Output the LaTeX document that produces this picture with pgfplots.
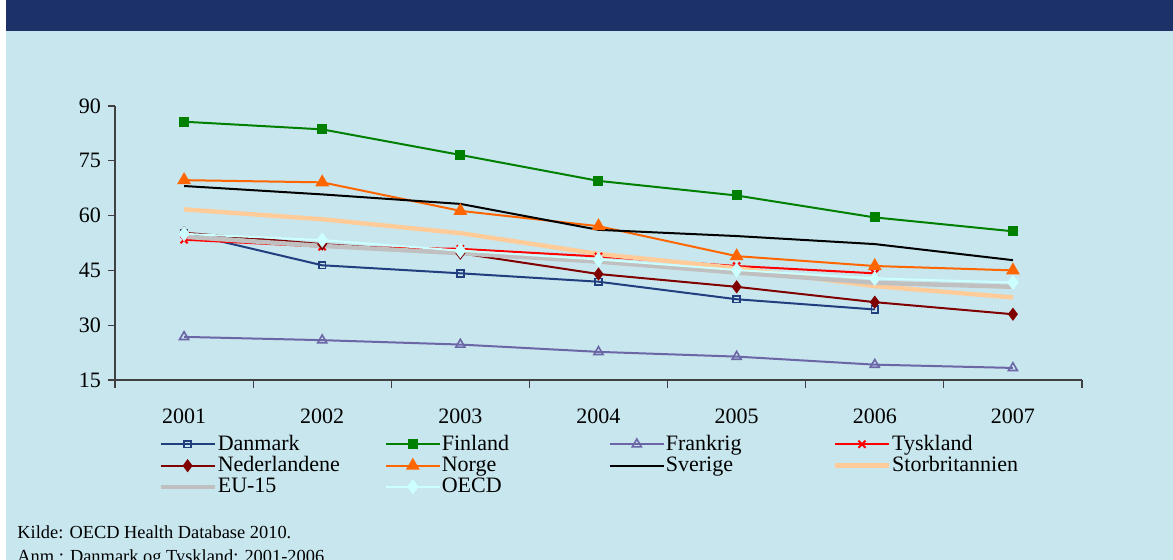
\documentclass[border=0pt]{standalone}
\usepackage{fontspec}
\setmainfont{Liberation Serif}
\usepackage{pgfplots}
\pgfplotsset{compat=1.18}

\definecolor{bg}{HTML}{C8E6EE}
\definecolor{banner}{HTML}{1C3168}
\definecolor{cDan}{HTML}{213E7E}
\definecolor{cFin}{HTML}{008000}
\definecolor{cFra}{HTML}{6B66A6}
\definecolor{cTys}{HTML}{FF0000}
\definecolor{cNed}{HTML}{800000}
\definecolor{cNor}{HTML}{FF6600}
\definecolor{cSve}{HTML}{000000}
\definecolor{cGbr}{HTML}{FFCC99}
\definecolor{cEu}{HTML}{C0C0C0}
\definecolor{cOecd}{HTML}{CCFFFF}

\begin{document}
\begin{tikzpicture}
\path[use as bounding box] (0,0) rectangle (586.5pt,280pt);
\clip (0,0) rectangle (586.5pt,280pt);
\fill[white] (0,0) rectangle (586.5pt,280pt);
\fill[bg] (3pt,0) rectangle (586.5pt,264.5pt);
\fill[banner] (3pt,264.5pt) rectangle (586.5pt,280pt);

\begin{axis}[
    at={(57.5pt,90pt)}, anchor=south west,
    scale only axis, width=483.5pt, height=137pt,
    xmin=-0.5, xmax=6.5, ymin=15, ymax=90,
    axis x line*=bottom, axis y line*=left,
    axis line style={black!75, line width=0.6pt, -},
    xtick={0,...,6},
    xticklabels={2001,2002,2003,2004,2005,2006,2007},
    minor xtick={-0.5,0.5,...,6.5},
    ytick={15,30,45,60,75,90},
    tick align=outside,
    major tick length=3.5pt, minor tick length=4pt,
    major x tick style={draw=none},
    tick style={black!75, line width=0.6pt},
    tick label style={font=\fontsize{11}{13}\selectfont},
    xticklabel style={yshift=-7.5pt},
    /pgf/number format/assume math mode=true,
    legend style={at={(0.0445,-0.196)}, anchor=north west, draw=none, fill=none,
        legend columns=4, font=\fontsize{11}{10.5}\selectfont, inner sep=0pt,
        nodes={inner sep=0.5pt}, row sep=0.6pt,
        /tikz/every even column/.append style={text width=83pt}},
    legend cell align=left,
    legend image code/.code={\draw[mark repeat=2,mark phase=2,#1]
        plot coordinates {(0pt,0pt) (13.5pt,0pt) (27pt,0pt)};},
]
\addplot[color=cDan, line width=1pt, mark=square, mark size=1.7pt,
    mark options={line width=0.8pt}]
    coordinates {(0,55.3) (1,46.4) (2,44.2) (3,41.9) (4,37.1) (5,34.3)};
\addplot[color=cFin, line width=1pt, mark=square*, mark size=2pt]
    coordinates {(0,85.7) (1,83.6) (2,76.6) (3,69.5) (4,65.5) (5,59.5) (6,55.7)};
\addplot[color=cFra, line width=1pt, mark=triangle, mark size=2.6pt,
    mark options={line width=0.8pt}]
    coordinates {(0,26.8) (1,25.9) (2,24.7) (3,22.7) (4,21.4) (5,19.2) (6,18.3)};
\addplot[color=cTys, line width=1pt, mark=x, mark size=2.5pt]
    coordinates {(0,53.4) (1,51.5) (2,50.9) (3,48.8) (4,46.2) (5,44.2)};
\addplot[color=cNed, line width=1pt, mark=diamond*, mark size=2.5pt]
    coordinates {(0,55.3) (1,52.2) (2,49.7) (3,44.0) (4,40.5) (5,36.3) (6,33.0)};
\addplot[color=cNor, line width=1pt, mark=triangle*, mark size=3pt]
    coordinates {(0,69.7) (1,69.1) (2,61.3) (3,57.1) (4,48.9) (5,46.2) (6,45.0)};
\addplot[color=cSve, line width=1pt]
    coordinates {(0,68.1) (1,65.8) (2,63.2) (3,56.1) (4,54.4) (5,52.2) (6,47.8)};
\addplot[color=cGbr, line width=2.2pt]
    coordinates {(0,61.7) (1,59.0) (2,55.2) (3,49.5) (4,45.6) (5,40.7) (6,37.6)};
\addplot[color=cEu, line width=2.2pt]
    coordinates {(0,54.2) (1,51.7) (2,49.7) (3,47.4) (4,44.4) (5,41.6) (6,40.5)};
\addplot[color=cOecd, line width=1pt, mark=diamond*, mark size=3pt]
    coordinates {(0,55.0) (1,53.3) (2,50.4) (3,48.0) (4,45.1) (5,42.8) (6,41.7)};
\legend{Danmark, Finland, Frankrig, Tyskland,
    Nederlandene, Norge, Sverige, Storbritannien,
    EU-15, OECD}
\end{axis}

\node[anchor=base west, inner sep=0pt, font=\fontsize{9.2}{10}\selectfont]
    at (8.5pt,10.5pt) {Kilde: OECD Health Database 2010.};
\node[anchor=base west, inner sep=0pt, font=\fontsize{9.2}{10}\selectfont]
    at (8.5pt,-1.5pt) {Anm.: Danmark og Tyskland: 2001-2006.};
\end{tikzpicture}
\end{document}
